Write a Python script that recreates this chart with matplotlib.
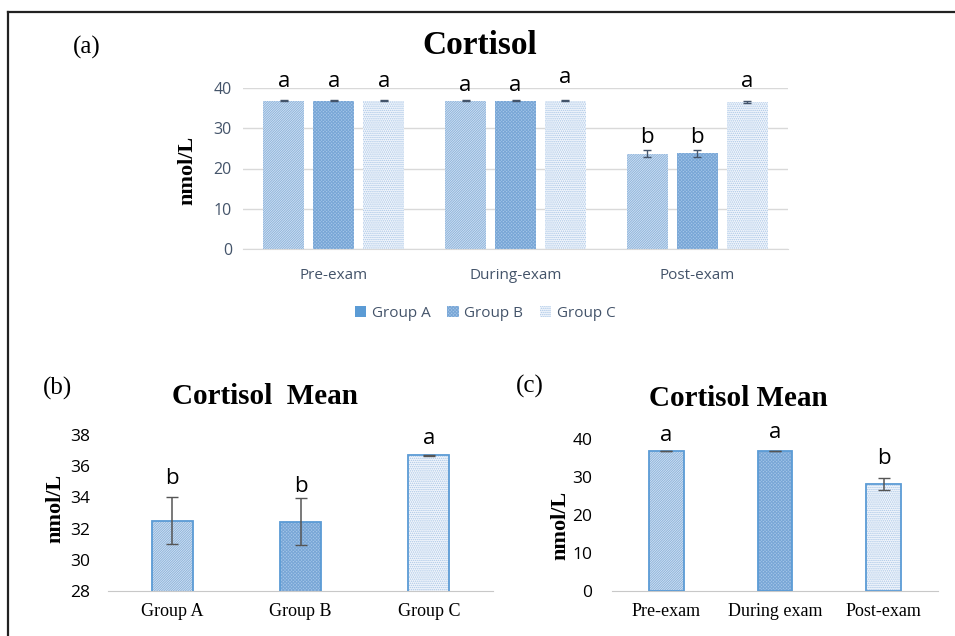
import numpy as np
import matplotlib
matplotlib.use('Agg')
import matplotlib.pyplot as plt
from matplotlib.patches import Patch
from matplotlib.lines import Line2D

# cortisol by exam phase and group (nmol/L)
phases = ['Pre-exam', 'During-exam', 'Post-exam']
groups = ['Group A', 'Group B', 'Group C']
group_a = [36.8, 36.8, 23.7]
group_b = [36.8, 36.8, 23.8]
group_c = [36.8, 36.8, 36.5]
group_a_err = [0.1, 0.1, 0.9]
group_b_err = [0.1, 0.1, 0.9]
group_c_err = [0.1, 0.1, 0.2]
letters_a = [['a', 'a', 'a'], ['a', 'a', 'a'], ['b', 'b', 'a']]
letter_y_a = [[41.5, 41.5, 41.5], [40.7, 40.7, 42.5], [27.8, 27.8, 41.5]]

# mean per group
group_mean = [32.5, 32.45, 36.7]
group_mean_err = [1.5, 1.5, 0.05]
group_letters = ['b', 'b', 'a']
group_letter_y = [35.2, 34.7, 37.8]

# mean per phase
phase_labels = ['Pre-exam', 'During exam', 'Post-exam']
phase_mean = [36.8, 36.8, 28.2]
phase_mean_err = [0.05, 0.05, 1.5]
phase_letters = ['a', 'a', 'b']
phase_letter_y = [40.8, 41.6, 35.0]

plt.rcParams['hatch.linewidth'] = 0.7

# fill styles: facecolor, hatch, hatch colour
styles = [
    ('#dce8f5', '/' * 14, '#8cb3dc'),
    ('#a3c5e8', 'x' * 10, '#78a6d6'),
    ('#f2f6fc', '.' * 8, '#a9c6e6'),
]

fig = plt.figure(figsize=(9.55, 6.36), dpi=100)

# outer frame (top and left)
fig.add_artist(Line2D([8 / 955, 1.0], [1 - 12 / 636, 1 - 12 / 636], color='#222222', lw=1.6))
fig.add_artist(Line2D([8 / 955, 8 / 955], [0, 1 - 12 / 636], color='#222222', lw=1.6))

sans = 'Open Sans'
serif = 'Liberation Serif'
slate = '#44546a'

# ---------- (a) ----------
ax1 = fig.add_axes([243 / 955, 1 - 249 / 636, 545 / 955, 161 / 636])
x = np.arange(len(phases))
off = 0.275
w = 0.225
series = [group_a, group_b, group_c]
errs = [group_a_err, group_b_err, group_c_err]
for i in range(3):
    fc, h, hc = styles[i]
    pos = x + (i - 1) * off
    ax1.bar(pos, series[i], w, color=fc, hatch=h, edgecolor=hc, linewidth=0, zorder=2)
    ax1.errorbar(pos, series[i], yerr=errs[i], fmt='none', ecolor=slate,
                 elinewidth=1, capsize=3, zorder=3)
    for j in range(3):
        ax1.text(pos[j], letter_y_a[j][i], letters_a[j][i], ha='center', va='center',
                 fontsize=16, family=sans, color='black')
ax1.set_ylim(0, 40)
ax1.set_xlim(-0.5, 2.5)
ax1.set_yticks([0, 10, 20, 30, 40])
ax1.set_xticks(x)
ax1.set_xticklabels(phases, family=sans, fontsize=11, color=slate)
for t in ax1.get_yticklabels():
    t.set_family(sans)
    t.set_fontsize(11.5)
    t.set_color(slate)
ax1.tick_params(length=0)
ax1.tick_params(axis='x', pad=14)
ax1.tick_params(axis='y', pad=8)
ax1.grid(axis='y', color='#d9d9d9', lw=1, zorder=0)
ax1.set_axisbelow(True)
for s in ['top', 'right', 'left']:
    ax1.spines[s].set_visible(False)
ax1.spines['bottom'].set_color('#d9d9d9')
ax1.set_ylabel('nmol/L', family=serif, fontweight='bold', fontsize=16)
ax1.yaxis.set_label_coords(-0.083, 0.49)

fig.text(480 / 955, 1 - 45 / 636, 'Cortisol', family=serif, fontweight='bold',
         fontsize=24, ha='center', va='center')
fig.text(87 / 955, 1 - 47 / 636, '(a)', family=serif, fontsize=18, ha='center', va='center')

handles = [
    Patch(facecolor='#5b9bd5', edgecolor='none'),
    Patch(facecolor='#a3c5e8', hatch='x' * 10, edgecolor='#78a6d6', linewidth=0),
    Patch(facecolor='#f2f6fc', hatch='.' * 8, edgecolor='#a9c6e6', linewidth=0),
]
leg = fig.legend(handles, groups, loc='center', bbox_to_anchor=(485 / 955, 1 - 313 / 636),
                 ncol=3, frameon=False, handlelength=0.75, handleheight=0.75,
                 handletextpad=0.35, columnspacing=1.1, prop={'family': sans, 'size': 11})
for t in leg.get_texts():
    t.set_color(slate)


def mean_panel(ax, labels, vals, err, letters, ly, width):
    pos = np.arange(len(vals))
    for i in range(len(vals)):
        fc, h, hc = styles[i]
        ax.bar(pos[i], vals[i], width, color=fc, hatch=h, edgecolor=hc, linewidth=0, zorder=2)
    ax.bar(pos, vals, width, fill=False, edgecolor='#5b9bd5', linewidth=1.3, zorder=3)
    ax.errorbar(pos, vals, yerr=err, fmt='none', ecolor='#555555', elinewidth=1.1,
                capsize=4, zorder=4)
    for i in range(len(vals)):
        ax.text(pos[i], ly[i], letters[i], ha='center', va='center', fontsize=16,
                family=sans, color='black')
    ax.set_xlim(-0.5, len(vals) - 0.5)
    ax.set_xticks(pos)
    ax.set_xticklabels(labels, family=serif, fontsize=13)
    for t in ax.get_yticklabels():
        t.set_family(sans)
        t.set_fontsize(12.5)
    ax.tick_params(length=0)
    ax.tick_params(axis='x', pad=9)
    for s in ['top', 'right', 'left']:
        ax.spines[s].set_visible(False)
    ax.spines['bottom'].set_color('#c8c8c8')
    ax.set_ylabel('nmol/L', family=serif, fontweight='bold', fontsize=16)


# ---------- (b) ----------
ax2 = fig.add_axes([108 / 955, 45 / 636, 385 / 955, 156 / 636])
ax2.set_ylim(28, 38)
ax2.set_yticks([28, 30, 32, 34, 36, 38])
mean_panel(ax2, groups, group_mean, group_mean_err, group_letters, group_letter_y, 0.32)
ax2.set_ylim(28, 38)
ax2.tick_params(axis='y', pad=13)
ax2.yaxis.set_label_coords(-0.112, 0.53)
fig.text(265 / 955, 1 - 396 / 636, 'Cortisol  Mean', family=serif, fontweight='bold',
         fontsize=21, ha='center', va='center')
fig.text(57 / 955, 1 - 388 / 636, '(b)', family=serif, fontsize=18, ha='center', va='center')

# ---------- (c) ----------
ax3 = fig.add_axes([612 / 955, 45 / 636, 326 / 955, 152 / 636])
ax3.set_ylim(0, 40)
ax3.set_yticks([0, 10, 20, 30, 40])
mean_panel(ax3, phase_labels, phase_mean, phase_mean_err, phase_letters, phase_letter_y, 0.32)
ax3.set_ylim(0, 40)
ax3.tick_params(axis='y', pad=14)
ax3.yaxis.set_label_coords(-0.129, 0.43)
fig.text(738 / 955, 1 - 399 / 636, 'Cortisol Mean', family=serif, fontweight='bold',
         fontsize=21, ha='center', va='center')
fig.text(530 / 955, 1 - 386 / 636, '(c)', family=serif, fontsize=18, ha='center', va='center')

fig.savefig('out.png', dpi=100, facecolor='white')
